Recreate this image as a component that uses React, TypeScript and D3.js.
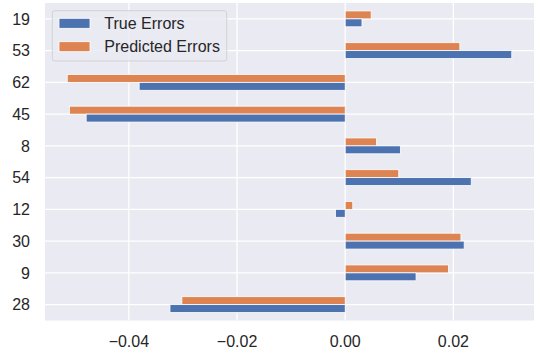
import React from "react";
import * as d3 from "d3";

const categories = ["19", "53", "62", "45", "8", "54", "12", "30", "9", "28"];
const trueErrors = [0.0031, 0.0308, -0.0381, -0.0479, 0.0102, 0.0233, -0.0018, 0.022, 0.0131, -0.0324];
const predictedErrors = [0.0048, 0.0212, -0.0514, -0.051, 0.0058, 0.0099, 0.0014, 0.0214, 0.0191, -0.0302];
const xTicks = [-0.04, -0.02, 0, 0.02];
const seriesNames = ["True Errors", "Predicted Errors"];

const W = 544;
const H = 351;
const left = 45;
const right = 534;
const top = 3;
const bottom = 320.5;
const BLUE = "#4C72B0";
const ORANGE = "#DD8452";
const BG = "#EAEAF2";
const TEXT = "#262626";
const FONT = "'Liberation Sans', Arial, sans-serif";

export default function App() {
  const all = [...trueErrors, ...predictedErrors];
  const mn = d3.min(all) as number;
  const mx = d3.max(all) as number;
  const pad = (mx - mn) * 0.05;
  const x = d3.scaleLinear().domain([mn - pad, mx + pad]).range([left, right]);
  const y = d3.scaleLinear().domain([-0.5, categories.length - 0.5]).range([top, bottom]);
  const bw = y(0.25) - y(0);
  const fmt = (v: number) => d3.format(".2f")(v).replace("-", "\u2212");

  return (
    <svg width={W} height={H} style={{ position: "absolute", left: 0, top: 0, background: "#fff" }} fontFamily={FONT}>
      <rect x={left} y={top} width={right - left} height={bottom - top} fill={BG} />
      {xTicks.map((t) => (
        <line key={"gx" + t} x1={x(t)} x2={x(t)} y1={top} y2={bottom} stroke="#fff" strokeWidth={1.3} />
      ))}
      {categories.map((c, i) => (
        <line key={"gy" + c} x1={left} x2={right} y1={y(i)} y2={y(i)} stroke="#fff" strokeWidth={1.3} />
      ))}
      {categories.map((c, i) => {
        const v1 = trueErrors[i];
        const v2 = predictedErrors[i];
        return (
          <g key={"b" + c}>
            <rect
              x={Math.min(x(0), x(v2))}
              y={y(i) - bw}
              width={Math.abs(x(v2) - x(0))}
              height={bw}
              fill={ORANGE}
              stroke="#fff"
              strokeWidth={0.8}
            />
            <rect
              x={Math.min(x(0), x(v1))}
              y={y(i)}
              width={Math.abs(x(v1) - x(0))}
              height={bw}
              fill={BLUE}
              stroke="#fff"
              strokeWidth={0.8}
            />
          </g>
        );
      })}
      {categories.map((c, i) => (
        <text key={"yl" + c} x={30} y={y(i)} dy="0.36em" textAnchor="end" fontSize={16} fill={TEXT}>
          {c}
        </text>
      ))}
      {xTicks.map((t) => (
        <text key={"xl" + t} x={x(t)} y={347} textAnchor="middle" fontSize={16} fill={TEXT}>
          {fmt(t)}
        </text>
      ))}
      <g>
        <rect x={52.3} y={10.7} width={174.4} height={50.3} rx={2.5} fill={BG} fillOpacity={0.8} stroke="#CCCCCC" strokeOpacity={0.8} strokeWidth={1} />
        {seriesNames.map((n, i) => (
          <g key={n}>
            <rect x={59} y={18.3 + i * 23.4} width={31} height={10} fill={i === 0 ? BLUE : ORANGE} stroke="#fff" strokeWidth={0.8} />
            <text x={104.3} y={23.3 + i * 23.4} dy="0.36em" fontSize={16} fill={TEXT}>
              {n}
            </text>
          </g>
        ))}
      </g>
    </svg>
  );
}
